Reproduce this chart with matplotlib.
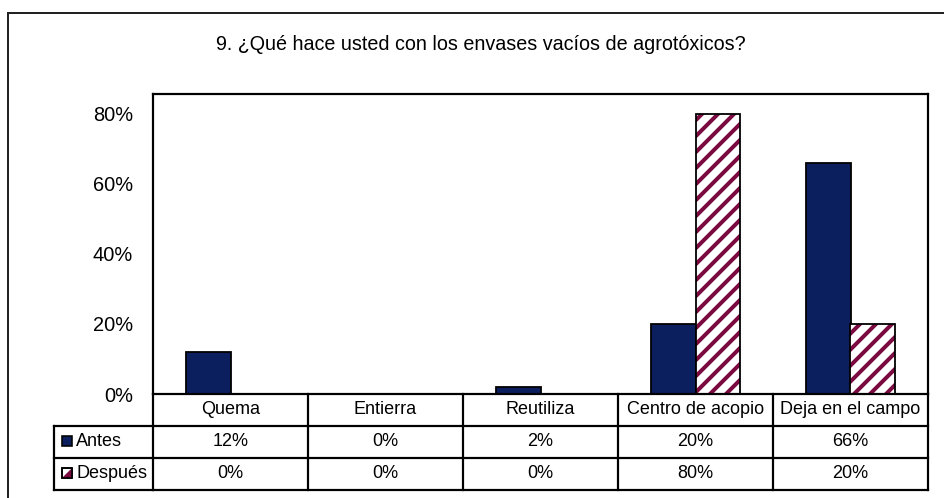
import matplotlib
matplotlib.use("Agg")
import matplotlib.pyplot as plt
from matplotlib.patches import Rectangle, Polygon
from matplotlib.lines import Line2D

title = "9. ¿Qué hace usted con los envases vacíos de agrotóxicos?"
categories = ["Quema", "Entierra", "Reutiliza", "Centro de acopio", "Deja en el campo"]
series_names = ["Antes", "Después"]
antes = [12, 0, 2, 20, 66]
despues = [0, 0, 0, 80, 20]
yticks = [0, 20, 40, 60, 80]

NAVY = "#0B1F5E"
MAROON = "#7A0A3F"

DPI = 144
W, H = 944, 498

plt.rcParams["font.family"] = ["Liberation Sans", "DejaVu Sans"]
FS, FS_TICK, FS_TITLE = 9.0, 10.0, 9.9
plt.rcParams["hatch.linewidth"] = 2.0

fig = plt.figure(figsize=(W / DPI, H / DPI), dpi=DPI)

L, R, T, B = 153, 928, 94, 394
ax = fig.add_axes([L / W, 1 - B / H, (R - L) / W, (B - T) / H])
ax.set_xlim(-0.5, len(categories) - 0.5)
ax.set_ylim(0, 85.7)
ax.set_yticks(yticks)
ax.set_yticklabels([f"{v}%" for v in yticks], fontsize=FS_TICK)
ax.tick_params(axis="y", length=0, pad=10)
ax.set_xticks([])
for s in ax.spines.values():
    s.set_linewidth(1.1)
    s.set_color("black")

w = 0.29
xs = list(range(len(categories)))
ax.bar([x - w / 2 for x in xs], antes, width=w, color=NAVY, edgecolor="black", linewidth=0.9, zorder=2)
ax.bar([x + w / 2 for x in xs], despues, width=w, color="white", edgecolor=MAROON, hatch="///", linewidth=0, zorder=2)
for x, v in zip(xs, despues):
    if v > 0:
        ax.bar(x + w / 2, v, width=w, fill=False, edgecolor="black", linewidth=0.9, zorder=3)

fig.text(481 / W, 1 - 45 / H, title, ha="center", va="center", fontsize=FS_TITLE)

ph = B - T
def ay(py):
    return (B - py) / ph

rows_y = [394, 426, 458, 490]
xt = ax.get_xaxis_transform()
lw = 1.1
for py in rows_y[1:]:
    ax.add_line(Line2D([-0.5, len(categories) - 0.5], [ay(py), ay(py)], transform=xt, color="black", lw=lw, clip_on=False))
for i in range(len(categories) + 1):
    x = i - 0.5
    ax.add_line(Line2D([x, x], [ay(394), ay(490)], transform=xt, color="black", lw=lw, clip_on=False))
lx0 = (54 - L) / (R - L)
ta = ax.transAxes
for py in rows_y[1:]:
    ax.add_line(Line2D([lx0, 0], [ay(py), ay(py)], transform=ta, color="black", lw=lw, clip_on=False))
ax.add_line(Line2D([lx0, lx0], [ay(426), ay(490)], transform=ta, color="black", lw=lw, clip_on=False))

for i, c in enumerate(categories):
    ax.text(i, ay((394 + 426) / 2), c, transform=xt, ha="center", va="center", fontsize=FS, clip_on=False)
for r, vals in enumerate([antes, despues]):
    yc = ay((rows_y[r + 1] + rows_y[r + 2]) / 2)
    for i, v in enumerate(vals):
        ax.text(i, yc, f"{v}%", transform=xt, ha="center", va="center", fontsize=FS, clip_on=False)

def axx(px):
    return (px - L) / (R - L)
sz = 10
for r, name in enumerate(series_names):
    yc = (rows_y[r + 1] + rows_y[r + 2]) / 2
    x0 = 62
    y0 = yc - sz / 2 - 1
    if r == 0:
        ax.add_patch(Rectangle((axx(x0), ay(y0 + sz)), sz / (R - L), sz / ph, transform=ta,
                               facecolor=NAVY, edgecolor="black", lw=0.8, clip_on=False))
    else:
        ax.add_patch(Rectangle((axx(x0), ay(y0 + sz)), sz / (R - L), sz / ph, transform=ta,
                               facecolor="white", edgecolor="black", lw=0.8, clip_on=False))
        ax.add_patch(Polygon([(axx(x0), ay(y0 + sz)), (axx(x0 + sz), ay(y0 + sz)), (axx(x0 + sz), ay(y0))],
                             closed=True, transform=ta, facecolor=MAROON, edgecolor="none", clip_on=False))
        ax.add_patch(Rectangle((axx(x0), ay(y0 + sz)), sz / (R - L), sz / ph, transform=ta,
                               facecolor="none", edgecolor="black", lw=0.8, clip_on=False))
    ax.text(axx(x0 + sz + 4), ay(yc), name, transform=ta, ha="left", va="center", fontsize=FS, clip_on=False)

fig.add_artist(Line2D([8 / W, 8 / W], [0, 1 - 13 / H], transform=fig.transFigure, color="#222222", lw=1.0))
fig.add_artist(Line2D([8 / W, 1], [1 - 13 / H, 1 - 13 / H], transform=fig.transFigure, color="#222222", lw=1.0))

fig.savefig("out.png", dpi=DPI, facecolor="white")
